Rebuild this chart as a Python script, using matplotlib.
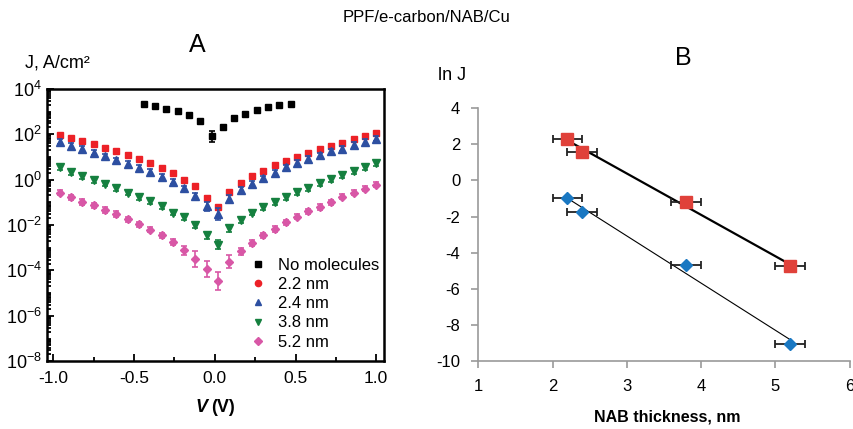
import matplotlib
matplotlib.use("Agg")
import matplotlib.pyplot as plt
import numpy as np
from matplotlib.ticker import FixedLocator, LogLocator, LogFormatterMathtext, MultipleLocator, NullFormatter
from matplotlib.lines import Line2D

plt.rcParams["font.family"] = ["Liberation Sans", "DejaVu Sans"]
plt.rcParams["mathtext.fontset"] = "custom"
plt.rcParams["mathtext.rm"] = "Liberation Sans"
plt.rcParams["mathtext.it"] = "Liberation Sans:italic"
plt.rcParams["mathtext.bf"] = "Liberation Sans:bold"
plt.rcParams["axes.unicode_minus"] = False

# panel A data (log10 J, A/cm2)
v_mol = [-0.96, -0.89, -0.82, -0.75, -0.68, -0.61, -0.54, -0.47, -0.40, -0.33,
         -0.26, -0.19, -0.12, -0.05, 0.02, 0.09, 0.16, 0.23, 0.30, 0.37,
         0.44, 0.51, 0.58, 0.65, 0.72, 0.79, 0.86, 0.93, 1.00]
v_none = [-0.44, -0.37, -0.30, -0.23, -0.16, -0.09, -0.02, 0.05, 0.12, 0.19,
          0.26, 0.33, 0.40, 0.47]
logj_none = [3.31, 3.24, 3.12, 3.01, 2.84, 2.57, 1.91, 2.33, 2.72, 2.91,
             3.07, 3.18, 3.27, 3.33]
logj_22 = [1.96, 1.84, 1.69, 1.55, 1.40, 1.25, 1.09, 0.91, 0.73, 0.52,
           0.27, 0.00, -0.30, -0.79, -1.20, -0.54, -0.13, 0.15, 0.39, 0.63,
           0.84, 1.01, 1.18, 1.34, 1.49, 1.63, 1.78, 1.93, 2.06]
logj_24 = [1.67, 1.49, 1.34, 1.19, 1.03, 0.85, 0.69, 0.52, 0.33, 0.13,
           -0.09, -0.39, -0.72, -1.18, -1.52, -0.84, -0.45, -0.18, 0.06, 0.30,
           0.54, 0.73, 0.90, 1.07, 1.24, 1.37, 1.52, 1.66, 1.81]
logj_38 = [0.54, 0.34, 0.15, -0.03, -0.18, -0.36, -0.57, -0.76, -0.96, -1.16,
           -1.45, -1.66, -2.00, -2.45, -2.87, -2.15, -1.78, -1.45, -1.22, -1.00,
           -0.78, -0.56, -0.36, -0.17, 0.02, 0.20, 0.37, 0.55, 0.72]
logj_52 = [-0.58, -0.78, -0.98, -1.13, -1.33, -1.52, -1.75, -1.97, -2.20, -2.45,
           -2.75, -3.12, -3.49, -3.94, -4.46, -3.61, -3.15, -2.79, -2.45, -2.18,
           -1.88, -1.63, -1.40, -1.21, -1.00, -0.75, -0.58, -0.40, -0.22]
# error bar half-widths in decades
err_none = [0.05] * 6 + [0.25] + [0.05] * 7
err_22 = [0.05] * 29
err_24 = [0.12] * 12 + [0.15, 0.2, 0.25, 0.15] + [0.12] * 13
err_38 = [0.12] * 12 + [0.15, 0.15, 0.2, 0.15] + [0.12] * 13
err_52 = [0.12] * 9 + [0.12, 0.15, 0.2, 0.35, 0.35, 0.4, 0.3, 0.15, 0.15] + [0.12] * 11

labels_a = ["No molecules", "2.2 nm", "2.4 nm", "3.8 nm", "5.2 nm"]

# panel B data
thick = [2.2, 2.4, 3.8, 5.2]
lnj_red = [2.3, 1.55, -1.22, -4.76]
lnj_blue = [-0.96, -1.76, -4.70, -9.04]
thick_err = [0.2, 0.2, 0.2, 0.2]

fig = plt.figure(figsize=(8.54, 4.29), dpi=100)
axA = fig.add_axes([0.055, 0.158, 0.395, 0.635])
axB = fig.add_axes([0.56, 0.158, 0.435, 0.590])

series = [
    (v_none, logj_none, err_none, "#000000", "s", 5),
    (v_mol, logj_22, err_22, "#ec2127", "s", 5),
    (v_mol, logj_24, err_24, "#2d4fa1", "^", 5.5),
    (v_mol, logj_38, err_38, "#15803f", "v", 5.5),
    (v_mol, logj_52, err_52, "#d857a6", "D", 4.5),
]
handles = []
for (x, lj, e, c, m, ms), lab in zip(series, labels_a):
    lj = np.array(lj)
    e = np.array(e)
    j = 10.0 ** lj
    yerr = [j - 10.0 ** (lj - e), 10.0 ** (lj + e) - j]
    axA.errorbar(x, j, yerr=yerr, fmt="none", ecolor=c, elinewidth=1.2, capsize=2.2, capthick=1.2)
    axA.plot(x, j, linestyle="none", marker=m, color=c, markersize=ms)
    hm = "o" if lab == "2.2 nm" else m
    handles.append(Line2D([], [], linestyle="none", marker=hm, color=c, markersize=4.5, label=lab))

axA.set_yscale("log")
axA.set_ylim(1e-8, 1e4)
axA.set_xlim(-1.04, 1.05)
axA.yaxis.set_major_locator(FixedLocator([10.0 ** k for k in range(-8, 5, 2)]))
axA.yaxis.set_major_formatter(LogFormatterMathtext())
axA.yaxis.set_minor_locator(LogLocator(base=10, subs=np.arange(1, 10), numticks=50))
axA.yaxis.set_minor_formatter(NullFormatter())
axA.set_xticks([-1.0, -0.5, 0.0, 0.5, 1.0])
axA.set_xticklabels(["-1.0", "-0.5", "0.0", "0.5", "1.0"])
axA.xaxis.set_minor_locator(MultipleLocator(0.25))
axA.tick_params(which="both", direction="in", top=False, right=False, width=1.3)
axA.tick_params(axis="y", labelsize=13)
axA.tick_params(axis="x", labelsize=12.5, pad=7)
axA.tick_params(which="major", length=5)
axA.tick_params(which="minor", length=3)
for s in axA.spines.values():
    s.set_linewidth(1.8)
axA.legend(handles=handles, loc="lower right", bbox_to_anchor=(1.02, 0.0), frameon=False,
           fontsize=12, handletextpad=0.6, labelspacing=0.25, handlelength=1.2, borderaxespad=0.3)

# panel B
for y, c, m, ms, lw in [(lnj_red, "#e0413a", "s", 8, 1.6), (lnj_blue, "#1a78c2", "D", 6, 0.8)]:
    coef = np.polyfit(thick, y, 1)
    xs = np.array([min(thick), max(thick)])
    axB.plot(xs, np.polyval(coef, xs), color="black", linewidth=lw, zorder=2)
    axB.errorbar(thick, y, xerr=thick_err, fmt="none", ecolor="#222222", elinewidth=1.3,
                 capsize=3, capthick=1.3, zorder=3)
    axB.plot(thick, y, linestyle="none", marker=m, color=c, markersize=ms, zorder=4)

axB.set_xlim(1, 6)
axB.set_ylim(-10, 4)
axB.set_xticks(range(1, 7))
axB.set_yticks(range(-10, 5, 2))
axB.spines["top"].set_visible(False)
axB.spines["right"].set_visible(False)
for s in ["left", "bottom"]:
    axB.spines[s].set_color("#9a9a9a")
    axB.spines[s].set_linewidth(1.2)
axB.tick_params(direction="out", length=5, color="#9a9a9a", width=1.2, labelsize=12, pad=8)

fig.text(0.5, 0.96, "PPF/e-carbon/NAB/Cu", ha="center", va="center", fontsize=12)
fig.text(0.231, 0.895, "A", ha="center", va="center", fontsize=18)
fig.text(0.80, 0.865, "B", ha="center", va="center", fontsize=18)
fig.text(0.029, 0.853, "J, A/cm\u00b2", ha="left", va="center", fontsize=13)
fig.text(0.513, 0.823, "ln J", ha="left", va="center", fontsize=13)
fig.text(0.2424, 0.049, "V", ha="right", va="center", fontsize=13, fontweight="bold", style="italic")
fig.text(0.247, 0.049, "(V)", ha="left", va="center", fontsize=13, fontweight="bold")
fig.text(0.781, 0.028, "NAB thickness, nm", ha="center", va="center", fontsize=11.5, fontweight="bold")

fig.savefig("out.png", dpi=100)
